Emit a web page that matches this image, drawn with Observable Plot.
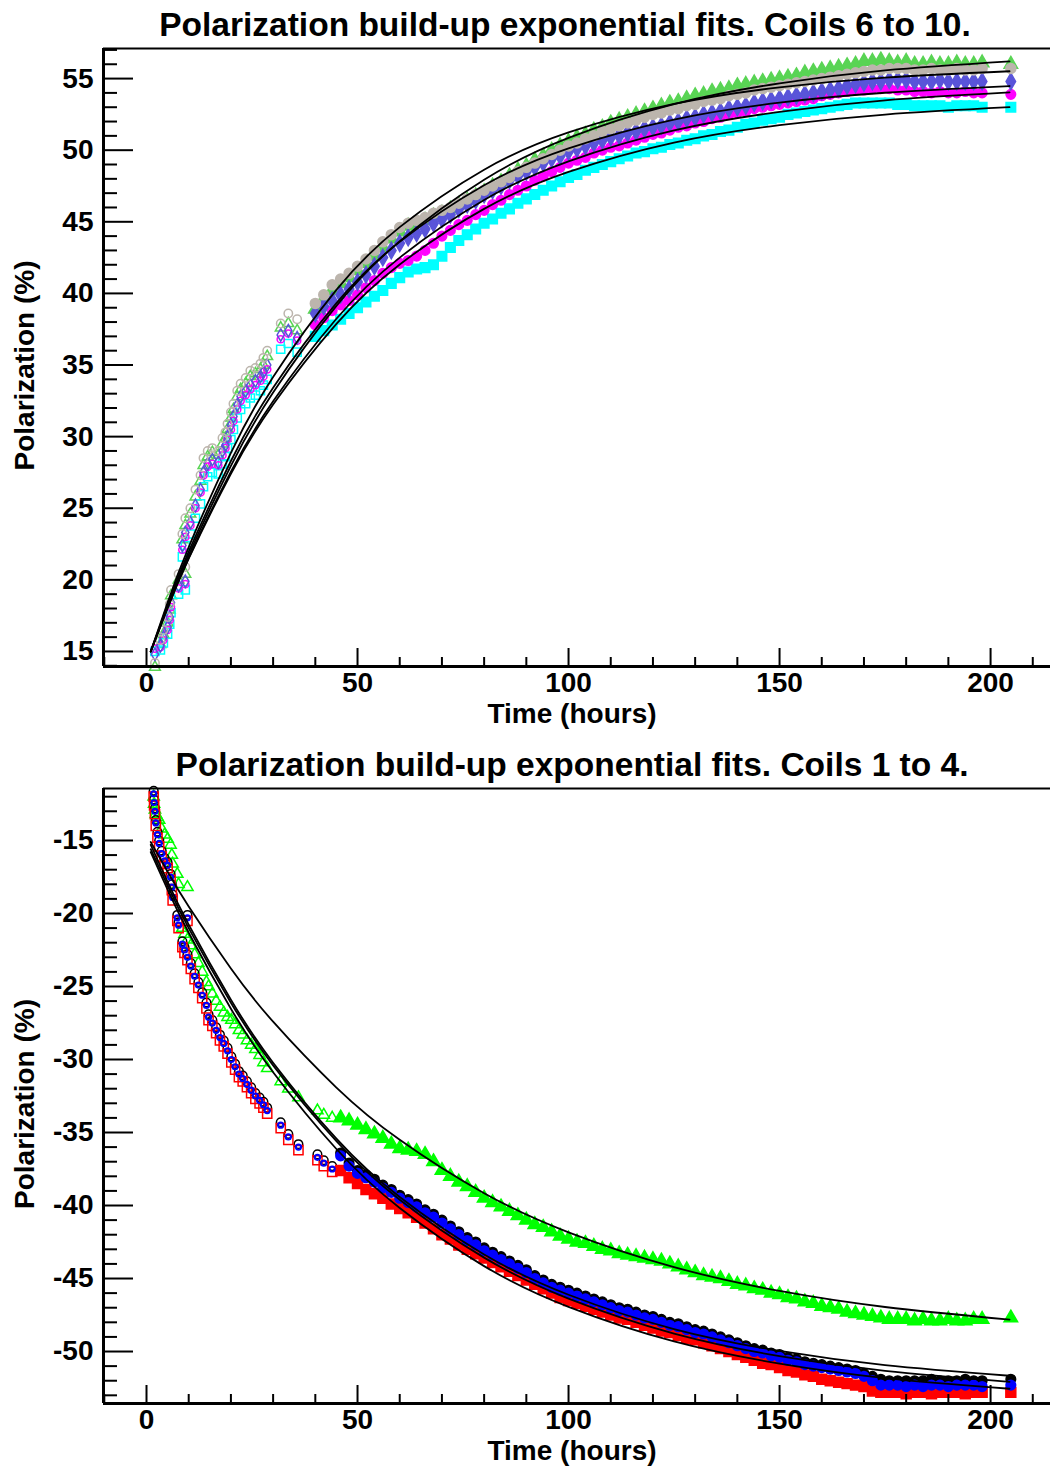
<!DOCTYPE html>
<html><head><meta charset="utf-8">
<script src="https://cdn.jsdelivr.net/npm/d3@7"></script>
<script src="https://cdn.jsdelivr.net/npm/@observablehq/plot@0.6"></script>
<style>
html,body{margin:0;padding:0;background:#fff;}
#page{position:relative;width:1052px;height:1466px;overflow:hidden;font-family:'Liberation Sans',Arial,Helvetica,sans-serif;}
.panel{position:absolute;left:0;}
.title{position:absolute;font-weight:bold;font-size:33.5px;line-height:34px;text-align:center;white-space:nowrap;color:#000;z-index:2;}
</style></head><body><div id="page">
<div class="panel" id="p1" style="top:0"></div>
<div class="panel" id="p2" style="top:740px"></div>
<div class="title" style="left:65px;width:1000px;top:8px;">Polarization build-up exponential fits. Coils 6 to 10.</div>
<div class="title" style="left:72px;width:1000px;top:748px;">Polarization build-up exponential fits. Coils 1 to 4.</div>
</div>
<script>
// ---------------- shared axis values ----------------
const xDomain = [-10.19, 214.2];
const xMajor = [0, 50, 100, 150, 200];
const xMinor = [-10, 10, 20, 30, 40, 60, 70, 80, 90, 110, 120, 130, 140, 160, 170, 180, 190, 210];
const xLabel = "Time (hours)";
const yLabel = "Polarization (%)";

// ---------------- TOP PANEL (coils 6 to 10) ----------------
const topYDomain = [13.95, 57.1];
const topYMajor = [15, 20, 25, 30, 35, 40, 45, 50, 55];
const topYMinor = [14,16,17,18,19,21,22,23,24,26,27,28,29,31,32,33,34,36,37,38,39,41,42,43,44,46,47,48,49,51,52,53,54,56,57];

// sparse early measurements (hours)
const topEarlyT = [2.0, 3.3, 4.0, 5.0, 5.5, 5.8, 7.6, 9.2, 8.5, 9.2, 10.4, 11.6, 12.8, 13.5, 14.5, 15.6, 17.0, 18.0, 18.7, 19.2, 20.0, 20.6, 21.5, 22.3, 23.5, 24.6, 25.8, 27.0, 27.7, 28.6, 31.8, 33.6, 35.7];
const topGrayEarly    = [14.2, 15.8, 16.5, 17.4, 18.3, 19.3, 20.4, 20.9, 23.2, 24.3, 25.0, 26.3, 27.3, 28.5, 29.0, 29.2, 29.0, 29.9, 30.3, 30.9, 31.7, 32.3, 33.2, 33.7, 34.1, 34.6, 34.8, 35.1, 35.5, 36.0, 37.9, 38.6, 38.2];
const topGreenEarly   = [13.9, 15.5, 16.2, 17.0, 17.9, 18.9, 20.0, 20.4, 22.8, 23.8, 24.6, 25.8, 26.9, 28.0, 28.6, 28.9, 28.7, 29.5, 29.9, 30.5, 31.3, 31.9, 32.8, 33.3, 33.7, 34.2, 34.4, 34.7, 35.0, 35.6, 37.6, 37.9, 37.4];
const topBlueEarly    = [14.8, 15.4, 16.0, 16.7, 17.4, 18.4, 19.6, 19.9, 22.4, 23.3, 24.0, 25.2, 26.3, 27.5, 28.1, 28.4, 28.2, 29.0, 29.4, 30.0, 30.8, 31.4, 32.2, 32.8, 33.2, 33.6, 33.9, 34.2, 34.5, 35.0, 37.1, 37.4, 36.9];
const topMagentaEarly = [15.2, 15.3, 15.8, 16.5, 17.2, 18.1, 19.4, 19.7, 22.1, 23.0, 23.8, 25.0, 26.1, 27.3, 27.9, 28.1, 28.0, 28.7, 29.2, 29.8, 30.5, 31.1, 31.9, 32.5, 32.9, 33.3, 33.6, 33.9, 34.2, 34.7, 36.8, 37.2, 36.7];
const topCyanEarly    = [15.0, 15.1, 15.6, 16.2, 16.9, 17.7, 19.0, 19.3, 21.6, 22.4, 23.2, 24.3, 25.3, 26.5, 27.2, 27.5, 27.4, 28.1, 28.6, 29.2, 29.8, 30.5, 31.3, 31.9, 32.3, 32.7, 32.9, 33.2, 33.6, 34.0, 36.1, 36.5, 35.9];

// continuous measurements (hours)
const topT = [40,42,44,46,48,50,52,54,56,58, 60,62,64,66,68,70,72,74,76,78, 80,82,84,86,88,90,92,94,96,98,
  100,102,104,106,108,110,112,114,116,118, 120,122,124,126,128,130,132,134,136,138, 140,142,144,146,148,150,152,154,156,158,
  160,162,164,166,168,170,172,174,176,178, 180, 182,184,186,188,190,192,194, 196,198, 204.8];
const topGray = [39.3,39.9,40.6,41.0,41.4,41.9,42.4,43.0,43.6,44.1, 44.6,44.9,45.1,45.3,45.6,45.8,46.0,46.3,46.6,46.9,
  47.2,47.5,47.8,48.1,48.5,48.8,49.1,49.4,49.7,50.0, 50.3,50.5,50.8,51.0,51.3,51.5,51.7,51.9,52.1,52.3,
  52.5,52.6,52.8,52.9,53.1,53.2,53.4,53.5,53.6,53.8, 53.9,54.0,54.2,54.3,54.4,54.5,54.6,54.7,54.8,54.9,
  55.0,55.1,55.2,55.3,55.4,55.5,55.6,55.6,55.7,55.7, 55.7, 55.6,55.6,55.7,55.6,55.6,55.7,55.6, 55.6,55.7, 55.7];
const topGreen = [38.9,39.6,40.2,40.7,41.1,41.6,42.1,42.6,43.2,43.8, 44.3,44.7,44.9,45.1,45.4,45.6,45.9,46.2,46.5,46.8,
  47.1,47.5,47.8,48.2,48.6,48.9,49.3,49.6,50.0,50.3, 50.6,50.9,51.1,51.4,51.6,51.9,52.1,52.3,52.5,52.7,
  52.9,53.1,53.3,53.4,53.6,53.8,53.9,54.1,54.2,54.3, 54.5,54.6,54.7,54.8,54.9,55.0,55.1,55.2,55.4,55.5,
  55.6,55.7,55.8,55.9,56.0,56.2,56.2,56.3,56.2,56.1, 56.2, 56.0,56.0,56.1,56.0,56.0,56.1,56.0, 56.0,56.1, 56.0];
const topBlue = [38.6,39.1,39.5,39.9,40.3,40.8,41.3,41.9,42.5,43.0, 43.5,43.9,44.2,44.5,44.9,45.2,45.5,45.9,46.2,46.5,
  46.9,47.2,47.5,47.9,48.2,48.5,48.8,49.1,49.4,49.6, 49.9,50.1,50.3,50.5,50.7,50.9,51.0,51.2,51.3,51.5,
  51.6,51.7,51.9,52.0,52.2,52.3,52.5,52.6,52.7,52.9, 53.0,53.1,53.3,53.4,53.5,53.6,53.7,53.8,53.9,54.0,
  54.1,54.2,54.3,54.5,54.6,54.7,54.8,54.8,54.9,54.9, 54.9, 54.8,54.8,54.8,54.9,54.8,54.8,54.8, 54.8,54.8, 54.8];
const topMagenta = [37.8,38.3,38.8,39.2,39.5,39.9,40.4,40.9,41.4,41.8, 42.1,42.3,42.6,43.0,43.5,44.0,44.4,44.8,45.1,45.5,
  45.8,46.2,46.5,46.9,47.2,47.5,47.9,48.2,48.5,48.8, 49.1,49.3,49.5,49.8,50.0,50.2,50.3,50.5,50.7,50.9,
  51.1,51.2,51.4,51.6,51.7,51.9,52.0,52.2,52.3,52.5, 52.6,52.7,52.9,53.0,53.1,53.2,53.3,53.4,53.5,53.6,
  53.8,53.9,54.0,54.1,54.2,54.2,54.3,54.3,54.3,54.2, 54.2, 54.1,54.1,54.0,54.1,54.0,54.0,54.1, 54.0,54.0, 53.9];
const topCyan = [37.0,37.4,37.8,38.2,38.6,39.0,39.4,39.8,40.2,40.7, 41.1,41.5,41.7,41.8,42.0,42.6,43.2,43.7,44.1,44.5,
  44.9,45.2,45.6,45.9,46.3,46.6,46.9,47.2,47.5,47.8, 48.1,48.3,48.6,48.8,49.0,49.2,49.4,49.6,49.8,49.9,
  50.1,50.2,50.4,50.5,50.7,50.8,51.0,51.1,51.3,51.4, 51.6,51.8,51.9,52.1,52.2,52.3,52.5,52.6,52.7,52.8,
  52.9,53.0,53.1,53.2,53.3,53.3,53.3,53.3,53.3,53.2, 53.2, 53.1,53.1,53.1,53.1,53.0,53.1,53.1, 53.1,53.0, 53.0];

// exponential fit curves, sampled (hours)
const fitT = [1, 5, 10, 20, 30, 45, 60, 80, 100, 125, 150, 175, 204.5];
const topFitA = [15.0, 18.14, 21.74, 27.96, 33.08, 39.13, 43.64, 47.94, 50.86, 53.22, 54.67, 55.57, 56.20];
const topFitB = [15.0, 18.42, 22.29, 28.87, 34.17, 40.25, 44.63, 48.64, 51.24, 53.23, 54.39, 55.07, 55.51];
const topFitC = [15.0, 18.26, 21.97, 28.30, 33.42, 39.32, 43.60, 47.55, 50.13, 52.14, 53.32, 54.01, 54.48];
const topFitD = [15.0, 18.05, 21.54, 27.55, 32.47, 38.23, 42.50, 46.52, 49.22, 51.38, 52.68, 53.48, 54.03];
const topFitE = [15.0, 18.03, 21.48, 27.41, 32.24, 37.87, 42.02, 45.90, 48.48, 50.53, 51.75, 52.49, 53.00];

// ---------------- BOTTOM PANEL (coils 1 to 4) ----------------
const botYDomain = [-53.56, -11.44];
const botYMajor = [-15, -20, -25, -30, -35, -40, -45, -50];
const botYMinor = [-12,-13,-14,-16,-17,-18,-19,-21,-22,-23,-24,-26,-27,-28,-29,-31,-32,-33,-34,-36,-37,-38,-39,-41,-42,-43,-44,-46,-47,-48,-49,-51,-52,-53];

const botEarlyT = [1.7, 1.8, 2.0, 2.2, 2.6, 3.0, 3.6, 4.3, 5.0, 5.7, 6.0, 6.2, 7.3, 7.6, 9.7, 8.5, 9.0, 9.7, 10.5, 11.4, 12.3, 13.2, 14.2, 14.7, 15.6, 16.5, 17.4, 18.3, 19.2, 20.1, 21.0, 21.9, 22.8, 23.8, 24.8, 25.8, 26.8, 27.7, 28.6, 31.8, 33.6, 36.0, 40.5, 42.0, 44.0];
const botGreenEarly = [-12.0,-12.5,-12.9,-13.2,-13.4,-13.6,-14.2,-14.6,-14.9,-15.3,-16.0,-16.6,-17.3,-18.0,-18.2,-21.0,-21.4,-21.8,-22.2,-22.8,-23.4,-24.0,-24.7,-25.0,-25.5,-26.0,-26.4,-26.8,-27.1,-27.3,-27.6,-28.0,-28.3,-28.7,-29.0,-29.3,-29.7,-30.2,-30.6,-31.5,-32.0,-32.6,-33.5,-33.8,-34.0];
const botBlackEarly = [-11.6,-12.2,-12.8,-13.6,-14.4,-15.0,-15.7,-16.2,-16.5,-17.3,-18.0,-18.7,-20.1,-20.6,-20.1,-21.9,-22.3,-22.8,-23.4,-24.1,-24.7,-25.4,-26.1,-26.9,-27.3,-27.8,-28.3,-28.7,-29.2,-29.8,-30.3,-30.8,-31.1,-31.5,-31.9,-32.3,-32.6,-32.9,-33.3,-34.3,-35.1,-35.8,-36.5,-36.9,-37.3];
const botRedEarly   = [-12.0,-12.6,-13.2,-14.0,-14.8,-15.4,-16.1,-16.6,-16.9,-17.7,-18.4,-19.1,-20.5,-21.0,-20.5,-22.3,-22.7,-23.2,-23.8,-24.5,-25.1,-25.8,-26.5,-27.3,-27.7,-28.2,-28.7,-29.1,-29.6,-30.2,-30.7,-31.2,-31.5,-31.9,-32.3,-32.7,-33.0,-33.3,-33.7,-34.7,-35.5,-36.2,-36.9,-37.3,-37.7];
const botBlueEarly  = [-11.8,-12.4,-13.0,-13.8,-14.6,-15.2,-15.9,-16.4,-16.7,-17.5,-18.2,-18.9,-20.3,-20.8,-20.3,-22.1,-22.5,-23.0,-23.6,-24.3,-24.9,-25.6,-26.3,-27.1,-27.5,-28.0,-28.5,-28.9,-29.4,-30.0,-30.5,-31.0,-31.3,-31.7,-32.1,-32.5,-32.8,-33.1,-33.5,-34.5,-35.3,-36.0,-36.7,-37.1,-37.5];

const botT = [46,48,50,52,54,56,58, 60,62,64,66,68,70,72,74,76,78, 80,82,84,86,88,90,92,94,96,98,
  100,102,104,106,108,110,112,114,116,118, 120,122,124,126,128,130,132,134,136,138, 140,142,144,146,148,150,152,154,156,158,
  160,162,164,166,168,170,172,174,176,178, 180, 182,184,186,188,190,192,194, 196,198, 204.8];
const botGreen = [-34.0,-34.2,-34.5,-34.8,-35.1,-35.4,-35.8, -36.1,-36.2,-36.3,-36.5,-37.0,-37.6,-38.0,-38.4,-38.7,-39.1,
  -39.5,-39.8,-40.1,-40.4,-40.7,-41.0,-41.3,-41.5,-41.8,-42.1, -42.3,-42.5,-42.6,-42.8,-43.0,-43.1,-43.3,-43.4,-43.5,-43.6,
  -43.7,-43.8,-44.0,-44.2,-44.4,-44.6,-44.8,-44.9,-45.0,-45.2, -45.4,-45.5,-45.7,-45.8,-46.0,-46.1,-46.3,-46.4,-46.6,-46.7,
  -46.9,-47.0,-47.1,-47.3,-47.4,-47.5,-47.6,-47.7,-47.8,-47.8, -47.8, -47.9,-47.8,-47.9,-47.9,-47.8,-47.9,-47.9, -47.8,-47.8, -47.7];
const botBlack = [-36.4,-37.1,-37.6,-37.9,-38.2,-38.6,-38.9, -39.3,-39.6,-39.9,-40.3,-40.6,-41.0,-41.4,-41.8,-42.2,-42.5,
  -42.9,-43.2,-43.5,-43.8,-44.1,-44.4,-44.8,-45.1,-45.4,-45.6, -45.8,-46.0,-46.2,-46.4,-46.6,-46.8,-47.0,-47.1,-47.3,-47.5,
  -47.6,-47.8,-48.0,-48.1,-48.3,-48.5,-48.6,-48.8,-49.0,-49.2, -49.4,-49.6,-49.8,-49.9,-50.1,-50.2,-50.4,-50.5,-50.7,-50.8,
  -50.9,-51.0,-51.1,-51.2,-51.3,-51.5,-51.7,-51.9,-52.0,-52.0, -52.0, -52.0,-52.0,-51.9,-52.0,-52.0,-52.0,-51.9, -52.0,-52.0, -51.9];
const botRed = [-37.6,-38.1,-38.5,-38.9,-39.2,-39.5,-39.9, -40.2,-40.5,-40.8,-41.2,-41.6,-42.0,-42.3,-42.7,-43.0,-43.3,
  -43.6,-43.9,-44.2,-44.5,-44.8,-45.1,-45.4,-45.7,-46.0,-46.3, -46.5,-46.7,-46.9,-47.1,-47.3,-47.5,-47.7,-47.8,-48.0,-48.2,
  -48.4,-48.6,-48.7,-48.9,-49.1,-49.2,-49.4,-49.6,-49.8,-50.0, -50.2,-50.4,-50.6,-50.8,-50.9,-51.1,-51.3,-51.4,-51.6,-51.7,
  -51.9,-52.0,-52.1,-52.2,-52.3,-52.4,-52.7,-52.8,-52.8,-52.8, -52.9, -52.8,-52.8,-52.9,-52.8,-52.8,-52.8,-52.9, -52.8,-52.8, -52.8];
const botBlue = [-36.6,-37.3,-37.8,-38.1,-38.4,-38.8,-39.1, -39.5,-39.8,-40.1,-40.5,-40.8,-41.2,-41.6,-42.0,-42.4,-42.7,
  -43.1,-43.4,-43.7,-44.0,-44.3,-44.6,-45.0,-45.3,-45.6,-45.8, -46.0,-46.2,-46.4,-46.6,-46.8,-47.0,-47.2,-47.3,-47.5,-47.7,
  -47.8,-48.0,-48.2,-48.3,-48.5,-48.7,-48.8,-49.0,-49.2,-49.4, -49.6,-49.8,-50.0,-50.1,-50.3,-50.4,-50.6,-50.7,-50.9,-51.0,
  -51.1,-51.2,-51.3,-51.4,-51.5,-51.7,-52.0,-52.3,-52.3,-52.3, -52.4, -52.3,-52.4,-52.3,-52.3,-52.4,-52.3,-52.3, -52.3,-52.4, -52.3];

const botFitGreen = [-15.1, -17.14, -19.52, -23.77, -27.41, -31.92, -35.50, -39.16, -41.84, -44.22, -45.85, -46.95, -47.82];
const botFitA = [-15.3, -17.84, -20.76, -25.90, -30.22, -35.42, -39.42, -43.35, -46.11, -48.46, -49.96, -50.93, -51.66];
const botFitB = [-15.6, -18.10, -21.00, -26.11, -30.40, -35.59, -39.60, -43.57, -46.38, -48.77, -50.32, -51.33, -52.08];
const botFitC = [-15.8, -18.36, -21.32, -26.52, -30.87, -36.13, -40.17, -44.15, -46.94, -49.31, -50.83, -51.82, -52.55];

// ---------------- drawing ----------------
function rowsOf(ts, vs) { return ts.map((t, i) => ({t, p: vs[i]})); }

function buildPanel(cfg) {
  const marks = [];
  for (const s of cfg.series) {
    const early = rowsOf(cfg.earlyT, s.early);
    const dense = rowsOf(cfg.contT, s.cont);
    marks.push(Plot.dot(early, {x: "t", y: "p", symbol: s.symbol, r: s.r, stroke: s.color, fill: "none", strokeWidth: s.sw}));
    marks.push(Plot.dot(dense, {x: "t", y: "p", symbol: s.symbol, r: s.rDense, stroke: s.color, fill: s.color, strokeWidth: s.sw}));
  }
  const fitRows = [];
  cfg.fits.forEach((f, k) => f.forEach((p, i) => fitRows.push({t: fitT[i], p, k})));
  marks.push(Plot.line(fitRows, {x: "t", y: "p", z: "k", curve: "natural", stroke: "black", strokeWidth: 1.8}));
  marks.push(Plot.ruleY([cfg.yDomain[1]], {stroke: "black", strokeWidth: 2}));
  marks.push(Plot.ruleY([cfg.yDomain[0]], {stroke: "black", strokeWidth: 3}));
  marks.push(Plot.ruleX([xDomain[0]], {stroke: "black", strokeWidth: 3}));
  marks.push(Plot.axisY(cfg.yMajor, {anchor: "left", tickSize: -30, strokeWidth: 2, tickFormat: () => "", label: null}));
  marks.push(Plot.axisY(cfg.yMinor, {anchor: "left", tickSize: -14, strokeWidth: 2, tickFormat: () => "", label: null}));
  marks.push(Plot.axisX(xMajor, {anchor: "bottom", tickSize: -18, strokeWidth: 2, tickFormat: () => "", label: null}));
  marks.push(Plot.axisX(xMinor, {anchor: "bottom", tickSize: -9, strokeWidth: 2, tickFormat: () => "", label: null}));
  marks.push(Plot.axisY(cfg.yMajor, {anchor: "left", tickSize: 0, tickPadding: 10, tickFormat: d => String(d), label: null}));
  marks.push(Plot.axisX(xMajor, {anchor: "bottom", tickSize: 0, tickPadding: 6, tickFormat: d => String(d), label: null}));
  marks.push(Plot.text([xLabel], {text: d => d, frameAnchor: "bottom", textAnchor: "middle", lineAnchor: "middle", dy: 48, dx: -5}));
  marks.push(Plot.text([yLabel], {text: d => d, frameAnchor: "left", textAnchor: "middle", lineAnchor: "middle", rotate: -90, dx: -78, dy: cfg.yLabelDy}));
  return Plot.plot({
    width: 1052, height: cfg.height,
    marginTop: 48, marginBottom: cfg.marginBottom, marginLeft: 103, marginRight: 2,
    x: {domain: xDomain, label: null},
    y: {domain: cfg.yDomain, label: null},
    style: {fontFamily: "'Liberation Sans', Arial, Helvetica, sans-serif", fontSize: "28px", fontWeight: "bold", background: "transparent", color: "black", overflow: "visible"},
    marks
  });
}

const topChart = buildPanel({
  height: 740, marginBottom: 74, yDomain: topYDomain, yMajor: topYMajor, yMinor: topYMinor, yLabelDy: 8,
  earlyT: topEarlyT, contT: topT,
  series: [
    {color: "#59d454", symbol: "triangle", r: 4.0, rDense: 5.0, sw: 1.5, early: topGreenEarly, cont: topGreen},
    {color: "#00ffff", symbol: "square",   r: 4.6, rDense: 5.4, sw: 1.5, early: topCyanEarly, cont: topCyan},
    {color: "#ff00ff", symbol: "circle",   r: 3.6, rDense: 4.8, sw: 1.5, early: topMagentaEarly, cont: topMagenta},
    {color: "#5954d9", symbol: "diamond",  r: 3.8, rDense: 5.0, sw: 1.5, early: topBlueEarly, cont: topBlue},
    {color: "#bcb5ad", symbol: "circle",   r: 4.2, rDense: 5.0, sw: 1.5, early: topGrayEarly, cont: topGray}
  ],
  fits: [topFitA, topFitB, topFitC, topFitD, topFitE]
});
document.getElementById("p1").appendChild(topChart);

const bottomChart = buildPanel({
  height: 726, marginBottom: 63, yDomain: botYDomain, yMajor: botYMajor, yMinor: botYMinor, yLabelDy: 8,
  earlyT: botEarlyT, contT: botT,
  series: [
    {color: "#00ff00", symbol: "triangle", r: 4.2, rDense: 5.0, sw: 1.5, early: botGreenEarly, cont: botGreen},
    {color: "#000000", symbol: "circle",   r: 4.3, rDense: 4.8, sw: 1.5, early: botBlackEarly, cont: botBlack},
    {color: "#ff0000", symbol: "square",   r: 5.2, rDense: 5.6, sw: 1.5, early: botRedEarly, cont: botRed},
    {color: "#0000ff", symbol: "circle",   r: 2.6, rDense: 4.6, sw: 2, early: botBlueEarly, cont: botBlue}
  ],
  fits: [botFitGreen, botFitA, botFitB, botFitC]
});
document.getElementById("p2").appendChild(bottomChart);
</script>
</body></html>
